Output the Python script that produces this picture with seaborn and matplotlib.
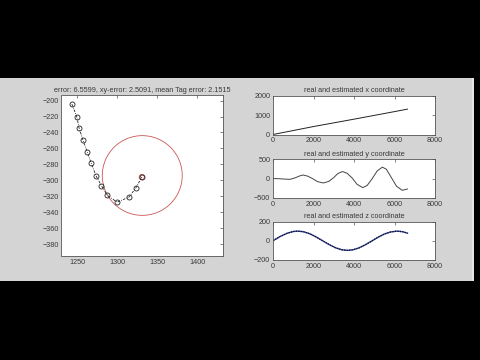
import matplotlib
matplotlib.use("Agg")
import matplotlib.pyplot as plt
import seaborn as sns
import pandas as pd
from matplotlib.patches import Rectangle, Circle

# ---------------- data ----------------
traj_x = [1243, 1249, 1252, 1257, 1262, 1267, 1273, 1280, 1287.5, 1299.5, 1314.5, 1323, 1330.5]
traj_y = [-204.5, -220, -234.5, -250, -264, -278, -294, -307, -319, -327.5, -321, -309.5, -296]
circle_center = (1331, -294)
circle_radius = 50
left_title = "error: 6.5599, xy-error: 2.5091, mean Tag error: 2.1515"
left_xticks = [1250, 1300, 1350, 1400]
left_yticks = [-380, -360, -340, -320, -300, -280, -260, -240, -220, -200]

x_t = [0, 2000, 4000, 6000, 6650]
x_val = [0, 410, 790, 1180, 1310]

y_t = [0, 300, 600, 850, 1100, 1300, 1475, 1700, 1950, 2200, 2480, 2750, 3000, 3200,
       3430, 3650, 3900, 4150, 4430, 4650, 4900, 5150, 5400, 5600, 5850, 6100, 6380, 6550, 6650]
y_val = [0, -5, -15, -20, 20, 65, 92, 65, 0, -80, -115, -75, 25, 130,
         182, 140, 20, -150, -236, -180, 0, 200, 297, 240, 20, -200, -305, -285, -270]

z_t = [0, 350, 700, 1000, 1225, 1500, 1800, 2100, 2450, 2800, 3100, 3400, 3675, 3950,
       4250, 4550, 4900, 5200, 5500, 5800, 6125, 6400, 6650]
z_val = [0, 44, 78, 96, 100, 94, 74, 43, 0, -43, -74, -94, -100, -94,
         -74, -43, 0, 38, 70, 91, 100, 94, 78]

right_titles = ["real and estimated x coordinate",
                "real and estimated y coordinate",
                "real and estimated z coordinate"]
right_xticks = [0, 2000, 4000, 6000, 8000]
right_yticks = [[0, 1000, 2000], [-500, 0, 500], [-200, 0, 200]]
right_ylims = [(0, 2000), (-500, 500), (-200, 200)]

# ---------------- style ----------------
sns.set_style("white")
plt.rcParams['font.family'] = ['Liberation Sans', 'DejaVu Sans']
TXT = '#3a3a3a'
FS = 5.2

W, H = 480, 360
fig = plt.figure(figsize=(4.8, 3.6), dpi=100)
fig.patch.set_facecolor('black')
fig.patches.append(Rectangle((0, 1 - 281 / H), 474 / W, (281 - 78) / H,
                             transform=fig.transFigure, facecolor='#d4d4d4',
                             edgecolor='none', zorder=-10))
fig.patches.append(Rectangle((472 / W, 1 - 281 / H), 2 / W, (281 - 78) / H,
                             transform=fig.transFigure, facecolor='#e6e6e6',
                             edgecolor='none', zorder=-10))


def box(x0, y0, x1, y1):
    return [x0 / W, 1 - y1 / H, (x1 - x0) / W, (y1 - y0) / H]


def style_ax(ax):
    ax.set_facecolor('white')
    for s in ax.spines.values():
        s.set_color('#555555')
        s.set_linewidth(0.6)
    ax.tick_params(direction='in', length=2.5, width=0.5, colors='#555555',
                   labelcolor=TXT, labelsize=FS, pad=2,
                   top=True, right=True)
    ax.set_xlabel('')
    ax.set_ylabel('')


# ---------------- left ----------------
axL = fig.add_axes(box(61.5, 95, 223, 256))
df_traj = pd.DataFrame({'x': traj_x, 'y': traj_y})
sns.lineplot(data=df_traj, x='x', y='y', sort=False, ax=axL, color='#222222',
             linewidth=0.6, linestyle=(0, (3, 1.5, 1, 1.5)), marker='o',
             markersize=3.6, markerfacecolor='none', markeredgecolor='#222222',
             markeredgewidth=0.6)
sns.scatterplot(x=traj_x[-1:], y=traj_y[-1:], ax=axL, marker='o', s=14,
                facecolor='none', edgecolor='#cc4444', linewidth=0.7)
axL.add_patch(Circle(circle_center, circle_radius, fill=False,
                     edgecolor='#cc5555', linewidth=0.6))
axL.set_xlim(1230, 1432)
axL.set_ylim(-395, -193)
axL.set_xticks(left_xticks)
axL.set_yticks(left_yticks)
style_ax(axL)
axL.set_title(left_title, fontsize=FS, color=TXT, pad=2.5)

# ---------------- right ----------------
rows = [(95.7, 134.5), (159.3, 197.8), (221.5, 260)]
series = [(x_t, x_val), (y_t, y_val), (z_t, z_val)]
for i, ((y0, y1), (tt, vv)) in enumerate(zip(rows, series)):
    ax = fig.add_axes(box(273, y0, 435, y1))
    df = pd.DataFrame({'t': tt, 'v': vv})
    if i == 2:
        sns.lineplot(data=df, x='t', y='v', ax=ax, color='#3344aa', linewidth=1.0)
        sns.lineplot(data=df, x='t', y='v', ax=ax, color='#111111', linewidth=0.9,
                     linestyle=(0, (1, 1)))
    else:
        sns.lineplot(data=df, x='t', y='v', ax=ax,
                     color='#222222' if i == 0 else '#444444', linewidth=0.7)
    ax.set_xlim(0, 8000)
    ax.set_ylim(*right_ylims[i])
    ax.set_xticks(right_xticks)
    ax.set_yticks(right_yticks[i])
    style_ax(ax)
    ax.set_title(right_titles[i], fontsize=FS, color=TXT, pad=2.5)

fig.savefig('out.png', dpi=100, facecolor=fig.get_facecolor())
